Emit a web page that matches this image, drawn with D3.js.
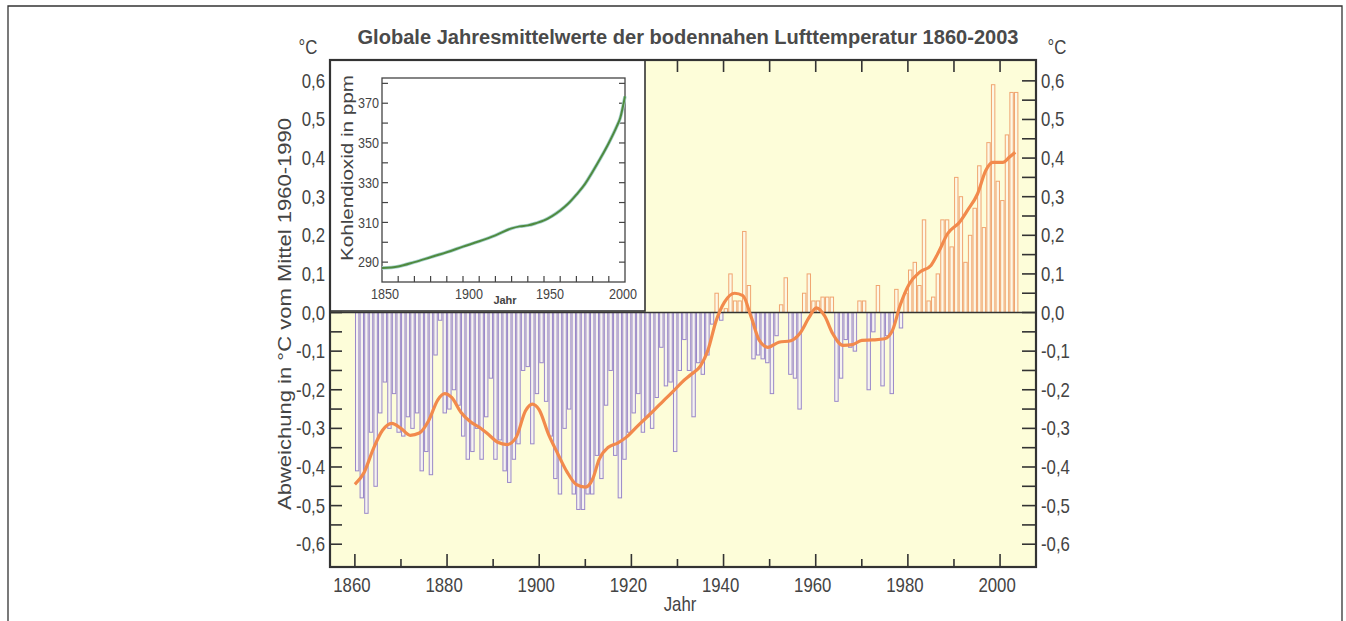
<!DOCTYPE html>
<html>
<head>
<meta charset="utf-8">
<script src="https://cdn.jsdelivr.net/npm/d3@7"></script>
<style>
  body { margin: 0; background: #fff; }
  text { font-family: 'Liberation Sans', Arial, sans-serif; fill: #444; }
</style>
</head>
<body>
<div class="chart"></div>
<script>
// temperature anomalies (°C vs 1960-1990), one bar per year from 1860
const firstYear = 1860
const anomalies = [
  -0.41, -0.48, -0.52, -0.31, -0.45, -0.26, -0.18, -0.30, -0.21, -0.31,
  -0.32, -0.27, -0.30, -0.26, -0.41, -0.36, -0.42, -0.11, -0.02, -0.26,
  -0.25, -0.20, -0.24, -0.32, -0.38, -0.36, -0.30, -0.38, -0.27, -0.17,
  -0.38, -0.33, -0.41, -0.44, -0.38, -0.34, -0.15, -0.14, -0.34, -0.21,
  -0.13, -0.23, -0.32, -0.43, -0.47, -0.30, -0.25, -0.47, -0.51, -0.51,
  -0.47, -0.47, -0.37, -0.43, -0.24, -0.15, -0.37, -0.48, -0.38, -0.31,
  -0.26, -0.21, -0.31, -0.27, -0.30, -0.22, -0.09, -0.19, -0.18, -0.36,
  -0.15, -0.07, -0.15, -0.27, -0.13, -0.16, -0.11, -0.03, 0.05, -0.02,
  0.01, 0.10, 0.03, 0.03, 0.21, 0.07, -0.12, -0.11, -0.12, -0.13,
  -0.21, -0.06, 0.02, 0.09, -0.16, -0.17, -0.25, 0.05, 0.10, 0.03,
  0.03, 0.04, 0.04, 0.04, -0.23, -0.17, -0.07, -0.09, -0.10, 0.03,
  0.03, -0.20, -0.05, 0.07, -0.19, -0.06, -0.21, 0.06, -0.04, 0.05,
  0.11, 0.13, 0.07, 0.24, 0.03, 0.04, 0.10, 0.24, 0.24, 0.17,
  0.35, 0.30, 0.13, 0.20, 0.27, 0.38, 0.22, 0.44, 0.59, 0.34,
  0.29, 0.46, 0.57, 0.57
]

// smoothed curve
const smoothYears = [1860, 1862, 1864, 1866, 1868, 1870, 1872, 1874, 1876, 1878, 1879.5, 1881, 1883, 1885, 1887, 1889,
  1891, 1893, 1895, 1897, 1898.5, 1900, 1902, 1904, 1906, 1908, 1910, 1911.6, 1913, 1915, 1917, 1919,
  1921, 1923, 1925, 1927, 1929, 1931, 1933, 1935, 1936.6, 1938.4, 1940.2, 1942.4, 1944.2, 1946, 1947.8, 1949.6,
  1952, 1954.6, 1956.5, 1958.6, 1960.1, 1961.9, 1963.7, 1965.9, 1968, 1970, 1972.4, 1975, 1976.7, 1978.3,
  1980.3, 1982.5, 1985, 1986.8, 1988.6, 1991.2, 1992.9, 1995.1, 1996.9, 1998.4, 2000.6, 2002, 2003.3]
const smoothValues = [-0.445, -0.414, -0.353, -0.305, -0.287, -0.300, -0.318, -0.312, -0.280, -0.226, -0.210, -0.220, -0.258, -0.282, -0.297, -0.316,
  -0.336, -0.342, -0.323, -0.255, -0.237, -0.252, -0.315, -0.365, -0.412, -0.445, -0.452, -0.431, -0.380, -0.349, -0.338, -0.322,
  -0.298, -0.275, -0.252, -0.228, -0.205, -0.180, -0.160, -0.138, -0.098, -0.021, 0.027, 0.050, 0.044, -0.012, -0.073, -0.090,
  -0.077, -0.073, -0.055, -0.012, 0.012, -0.008, -0.055, -0.085, -0.083, -0.072, -0.071, -0.068, -0.045, 0.018,
  0.074, 0.104, 0.122, 0.160, 0.204, 0.234, 0.264, 0.307, 0.368, 0.389, 0.389, 0.402, 0.415]

// CO2 inset
const co2Years = [1850, 1860, 1870, 1880, 1890, 1900, 1910, 1920, 1930, 1935, 1940, 1945, 1950, 1955, 1960, 1965, 1970, 1975, 1980, 1985, 1990, 1995, 1997, 2000]
const co2Ppm = [287, 287.8, 290, 292.5, 295, 297.8, 300.5, 303.5, 307, 308, 308.5, 309.6, 311, 313.2, 316, 319.5, 324, 329, 335.5, 342.5, 350, 358.5, 362.4, 373.5]

const yLabels = ['0,6', '0,5', '0,4', '0,3', '0,2', '0,1', '0,0', '-0,1', '-0,2', '-0,3', '-0,4', '-0,5', '-0,6']
const yLabelValues = [0.6, 0.5, 0.4, 0.3, 0.2, 0.1, 0, -0.1, -0.2, -0.3, -0.4, -0.5, -0.6]
const xLabelYears = [1860, 1880, 1900, 1920, 1940, 1960, 1980, 2000]
const co2Labels = [290, 310, 330, 350, 370]
const co2YearLabels = [1850, 1900, 1950, 2000]

const width = 1346
const height = 621

// scanned lettering is condensed: squeeze glyphs horizontally
const squeeze = 0.84
const at = (px, py) => `translate(${px},${py}) scale(${squeeze},1)`

// plot box
const box = { left: 330, right: 1036, top: 60, bottom: 567 }
const inset = { left: 330, right: 645, top: 60, bottom: 311 }
const insetPlot = { left: 382, right: 625, top: 78, bottom: 282 }

const svg = d3.select('.chart')
  .append('svg')
  .attr('width', width)
  .attr('height', height)

const x = d3.scaleLinear()
  .domain([1854.6, 2007.8])
  .range([box.left, box.right])

const y = d3.scaleLinear()
  .domain([-0.659, 0.654])
  .range([box.bottom, box.top])

// outer frame of the page
svg.append('path')
  .attr('d', `M8,${height} V6 H1342 V${height}`)
  .attr('fill', 'none')
  .attr('stroke', '#333')
  .attr('stroke-width', 1.3)

// yellow plot background
svg.append('rect')
  .attr('x', box.left)
  .attr('y', box.top)
  .attr('width', box.right - box.left)
  .attr('height', box.bottom - box.top)
  .attr('fill', '#fdfdd9')

// bars
const bars = anomalies.map((v, i) => ({ year: firstYear + i, value: v }))

svg.append('g')
  .selectAll('rect')
  .data(bars)
  .join('rect')
  .attr('x', d => x(d.year) + 0.6)
  .attr('width', d => x(d.year + 1) - x(d.year) - 1.2)
  .attr('y', d => Math.min(y(d.value), y(0)))
  .attr('height', d => Math.abs(y(d.value) - y(0)))
  .attr('fill', d => d.value < 0 ? '#f6f3f0' : '#fdf8e6')
  .attr('stroke', d => d.value < 0 ? '#9a88c9' : '#f0a570')
  .attr('stroke-width', 1)

// ticks on all four sides, drawn inward
const tickG = svg.append('g').attr('stroke', '#333').attr('stroke-width', 1.6)

d3.range(1860, 2001, 10).forEach(yr => {
  const len = (yr - 1860) % 20 === 0 ? 13 : 8
  tickG.append('line')
    .attr('x1', x(yr)).attr('x2', x(yr))
    .attr('y1', box.bottom).attr('y2', box.bottom - len)
  tickG.append('line')
    .attr('x1', x(yr)).attr('x2', x(yr))
    .attr('y1', box.top).attr('y2', box.top + 12)
})

d3.range(-13, 14).map(k => k * 0.05).filter(v => Math.abs(v) < 0.65).forEach(v => {
  tickG.append('line')
    .attr('x1', box.left).attr('x2', box.left + 12)
    .attr('y1', y(v)).attr('y2', y(v))
  tickG.append('line')
    .attr('x1', box.right).attr('x2', box.right - 14)
    .attr('y1', y(v)).attr('y2', y(v))
})

// zero line
svg.append('line')
  .attr('x1', box.left).attr('x2', box.right)
  .attr('y1', y(0)).attr('y2', y(0))
  .attr('stroke', '#333')
  .attr('stroke-width', 1.5)

// smoothed line
const smooth = smoothYears.map((yr, i) => [yr, smoothValues[i]])

svg.append('path')
  .datum(smooth)
  .attr('fill', 'none')
  .attr('stroke', '#f28a4c')
  .attr('stroke-width', 3.2)
  .attr('stroke-linejoin', 'round')
  .attr('d', d3.line()
    .x(d => x(d[0]))
    .y(d => y(d[1]))
    .curve(d3.curveMonotoneX))

// ---- inset: CO2 ----
svg.append('rect')
  .attr('x', inset.left)
  .attr('y', inset.top)
  .attr('width', inset.right - inset.left)
  .attr('height', inset.bottom - inset.top)
  .attr('fill', '#fff')
  .attr('stroke', '#333')
  .attr('stroke-width', 1.6)

const cx = d3.scaleLinear().domain([1850, 2000]).range([insetPlot.left, insetPlot.right])
const cy = d3.scaleLinear().domain([280, 382.7]).range([insetPlot.bottom, insetPlot.top])

const insetTicks = svg.append('g').attr('stroke', '#444').attr('stroke-width', 1.2)

d3.range(1860, 2000, 10).forEach(yr => {
  insetTicks.append('line')
    .attr('x1', cx(yr)).attr('x2', cx(yr))
    .attr('y1', insetPlot.bottom).attr('y2', insetPlot.bottom - 6)
})
d3.range(290, 381, 10).forEach(p => {
  insetTicks.append('line')
    .attr('x1', insetPlot.left).attr('x2', insetPlot.left + 6)
    .attr('y1', cy(p)).attr('y2', cy(p))
  insetTicks.append('line')
    .attr('x1', insetPlot.right).attr('x2', insetPlot.right - 6)
    .attr('y1', cy(p)).attr('y2', cy(p))
})

svg.append('rect')
  .attr('x', insetPlot.left)
  .attr('y', insetPlot.top)
  .attr('width', insetPlot.right - insetPlot.left)
  .attr('height', insetPlot.bottom - insetPlot.top)
  .attr('fill', 'none')
  .attr('stroke', '#444')
  .attr('stroke-width', 1.3)

const co2Line = d3.line()
  .x(d => cx(d[0]))
  .y(d => cy(d[1]))
  .curve(d3.curveMonotoneX)
const co2 = co2Years.map((yr, i) => [yr, co2Ppm[i]])

svg.append('path')
  .datum(co2)
  .attr('fill', 'none')
  .attr('stroke', '#a9d3cf')
  .attr('stroke-width', 3.5)
  .attr('d', co2Line)

svg.append('path')
  .datum(co2)
  .attr('fill', 'none')
  .attr('stroke', '#4f8a3f')
  .attr('stroke-width', 2)
  .attr('d', co2Line)

svg.append('g')
  .selectAll('text')
  .data(co2Labels)
  .join('text')
  .attr('transform', d => at(insetPlot.left - 3, cy(d)))
  .attr('dy', '0.35em')
  .attr('text-anchor', 'end')
  .style('font-size', '15px')
  .text(d => d)

svg.append('g')
  .selectAll('text')
  .data(co2YearLabels)
  .join('text')
  .attr('transform', d => at(cx(d) + (d === 1850 ? 3 : d === 2000 ? -2 : 6), insetPlot.bottom + 17))
  .attr('text-anchor', 'middle')
  .style('font-size', '15px')
  .text(d => d)

svg.append('text')
  .attr('x', 505)
  .attr('y', 304)
  .attr('text-anchor', 'middle')
  .style('font-size', '11px')
  .style('font-weight', 'bold')
  .text('Jahr')

svg.append('text')
  .attr('transform', 'translate(353,168) rotate(-90)')
  .attr('text-anchor', 'middle')
  .attr('textLength', 186)
  .attr('lengthAdjust', 'spacingAndGlyphs')
  .style('font-size', '16px')
  .text('Kohlendioxid in ppm')

// main plot frame
svg.append('rect')
  .attr('x', box.left)
  .attr('y', box.top)
  .attr('width', box.right - box.left)
  .attr('height', box.bottom - box.top)
  .attr('fill', 'none')
  .attr('stroke', '#333')
  .attr('stroke-width', 2.2)

// axis labels
svg.append('g')
  .selectAll('text')
  .data(yLabelValues)
  .join('text')
  .attr('transform', d => at(box.left - 5, y(d)))
  .attr('dy', '0.35em')
  .attr('text-anchor', 'end')
  .style('font-size', '20px')
  .text((d, i) => yLabels[i])

svg.append('g')
  .selectAll('text')
  .data(yLabelValues)
  .join('text')
  .attr('transform', d => at(box.right + 5, y(d)))
  .attr('dy', '0.35em')
  .style('font-size', '20px')
  .text((d, i) => yLabels[i])

svg.append('g')
  .selectAll('text')
  .data(xLabelYears)
  .join('text')
  .attr('transform', d => at(x(d) - 3, box.bottom + 25))
  .attr('text-anchor', 'middle')
  .style('font-size', '20px')
  .text(d => d)

svg.append('text')
  .attr('transform', at(680, 611))
  .attr('text-anchor', 'middle')
  .style('font-size', '20px')
  .text('Jahr')

svg.append('text')
  .attr('transform', at(308, 54))
  .attr('text-anchor', 'middle')
  .style('font-size', '20px')
  .text('°C')

svg.append('text')
  .attr('transform', at(1057, 54))
  .attr('text-anchor', 'middle')
  .style('font-size', '20px')
  .text('°C')

svg.append('text')
  .attr('transform', 'translate(291,314) rotate(-90)')
  .attr('text-anchor', 'middle')
  .attr('textLength', 392)
  .attr('lengthAdjust', 'spacingAndGlyphs')
  .style('font-size', '19px')
  .text('Abweichung in °C vom Mittel 1960-1990')

// title
svg.append('text')
  .attr('x', 688)
  .attr('y', 44)
  .attr('text-anchor', 'middle')
  .attr('textLength', 661)
  .attr('lengthAdjust', 'spacingAndGlyphs')
  .style('font-size', '20px')
  .style('font-weight', 'bold')
  .style('fill', '#4a4a4a')
  .text('Globale Jahresmittelwerte der bodennahen Lufttemperatur 1860-2003')
</script>
</body>
</html>
